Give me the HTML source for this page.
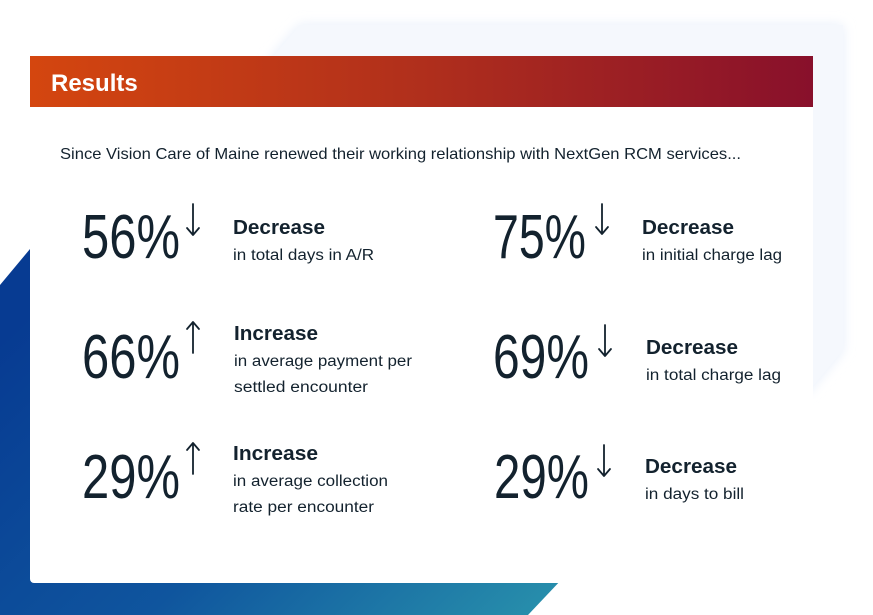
<!DOCTYPE html>
<html><head><meta charset="utf-8"><style>
html,body{margin:0;padding:0;background:#fff;width:873px;height:615px;overflow:hidden}
svg{display:block}
text{font-family:"Liberation Sans",sans-serif;fill:#13222e}
.num{font-size:62px}
.ttl{font-size:20px;font-weight:bold}
.sub{font-size:15.5px}
.arr{fill:none;stroke:#13222e;stroke-width:1.8;stroke-linecap:round;stroke-linejoin:round}
</style></head><body>
<svg width="873" height="615" viewBox="0 0 873 615">
<defs>
<linearGradient id="hdr" x1="0" x2="1" y1="0" y2="0"><stop offset="0" stop-color="#d4460f"/><stop offset="0.5" stop-color="#b02f1c"/><stop offset="1" stop-color="#88102b"/></linearGradient>
<linearGradient id="blue" x1="0" y1="0.3" x2="1" y2="1"><stop offset="0" stop-color="#073b92"/><stop offset="0.5" stop-color="#0f559e"/><stop offset="1" stop-color="#2a95ad"/></linearGradient>
<filter id="sh" x="-10%" y="-10%" width="120%" height="120%"><feGaussianBlur stdDeviation="6"/></filter>
</defs>
<polygon points="300,25 843,25 843,350 808,392 270,392 270,60" fill="#e6eefa" filter="url(#sh)"/>
<polygon points="300,25 843,25 843,350 808,392 270,392 270,60" fill="#f5f8fd"/>
<polygon points="0,285 50,225 580,225 580,560 528,615 0,615" fill="url(#blue)"/>
<rect x="30" y="56" width="783" height="527" rx="4" fill="#fff"/>
<path d="M30,56 H813 V107 H30 Z" fill="url(#hdr)"/>
<text x="51" y="91" style="font-size:24px;font-weight:bold;fill:#fff">Results</text>
<text x="60" y="159" style="font-size:16px" textLength="681" lengthAdjust="spacingAndGlyphs">Since Vision Care of Maine renewed their working relationship with NextGen RCM services...</text>

<g>
<text class="num" x="82" y="258" textLength="98" lengthAdjust="spacingAndGlyphs">56%</text>
<path class="arr" d="M193,204 V235 M187,228 L193,235 L199,228"/>
<text class="ttl" x="233" y="234" textLength="92" lengthAdjust="spacingAndGlyphs">Decrease</text>
<text class="sub" x="233" y="260" textLength="141" lengthAdjust="spacingAndGlyphs">in total days in A/R</text>
</g>
<g>
<text class="num" x="82" y="378" textLength="98" lengthAdjust="spacingAndGlyphs">66%</text>
<path class="arr" d="M193,353 V322 M187,329 L193,322 L199,329"/>
<text class="ttl" x="234" y="340" textLength="84" lengthAdjust="spacingAndGlyphs">Increase</text>
<text class="sub" x="234" y="366" textLength="178" lengthAdjust="spacingAndGlyphs">in average payment per</text>
<text class="sub" x="234" y="392" textLength="134" lengthAdjust="spacingAndGlyphs">settled encounter</text>
</g>
<g>
<text class="num" x="82" y="498" textLength="98" lengthAdjust="spacingAndGlyphs">29%</text>
<path class="arr" d="M193,474 V443 M187,450 L193,443 L199,450"/>
<text class="ttl" x="233" y="460" textLength="85" lengthAdjust="spacingAndGlyphs">Increase</text>
<text class="sub" x="233" y="486" textLength="155" lengthAdjust="spacingAndGlyphs">in average collection</text>
<text class="sub" x="233" y="512" textLength="141" lengthAdjust="spacingAndGlyphs">rate per encounter</text>
</g>
<g>
<text class="num" x="493" y="258" textLength="93" lengthAdjust="spacingAndGlyphs">75%</text>
<path class="arr" d="M602,204 V234 M596,227 L602,234 L608,227"/>
<text class="ttl" x="642" y="234" textLength="92" lengthAdjust="spacingAndGlyphs">Decrease</text>
<text class="sub" x="642" y="260" textLength="140" lengthAdjust="spacingAndGlyphs">in initial charge lag</text>
</g>
<g>
<text class="num" x="493" y="378" textLength="96" lengthAdjust="spacingAndGlyphs">69%</text>
<path class="arr" d="M605,325 V356 M599,349 L605,356 L611,349"/>
<text class="ttl" x="646" y="354" textLength="92" lengthAdjust="spacingAndGlyphs">Decrease</text>
<text class="sub" x="646" y="380" textLength="135" lengthAdjust="spacingAndGlyphs">in total charge lag</text>
</g>
<g>
<text class="num" x="494" y="498" textLength="95" lengthAdjust="spacingAndGlyphs">29%</text>
<path class="arr" d="M604,445 V476 M598,469 L604,476 L610,469"/>
<text class="ttl" x="645" y="473" textLength="92" lengthAdjust="spacingAndGlyphs">Decrease</text>
<text class="sub" x="645" y="499" textLength="99" lengthAdjust="spacingAndGlyphs">in days to bill</text>
</g>
</svg>
</body></html>
